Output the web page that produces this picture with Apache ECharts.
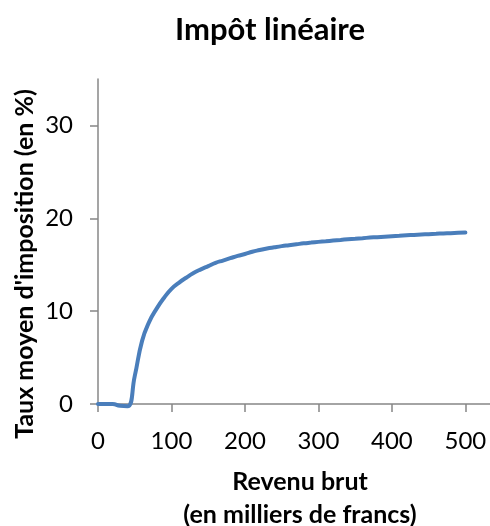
<!DOCTYPE html>
<html><head><meta charset="utf-8">
<script src="https://cdn.jsdelivr.net/npm/echarts@6/dist/echarts.min.js"></script>
<style>html,body{margin:0;padding:0;background:#fff}#c{width:490px;height:526px}</style>
</head><body><div id="c"></div>
<script>
const revenu = [0,10,20,30,40,50,60,70,80,90,100,110,120,130,140,150,160,170,180,190,200,
  210,220,230,240,250,260,270,280,290,300,310,320,330,340,350,360,370,380,390,400,
  410,420,430,440,450,460,470,480,490,500];
const taux = [0,0,0,-0.2,-0.25,3.0,6.8,8.9,10.3,11.45,12.4,13.05,13.6,14.1,14.5,14.85,15.2,15.45,15.7,15.95,16.15,
  16.4,16.58,16.75,16.88,17.0,17.1,17.2,17.3,17.38,17.46,17.53,17.6,17.67,17.74,17.8,17.86,17.92,17.97,18.02,18.07,
  18.12,18.17,18.21,18.25,18.29,18.33,18.37,18.4,18.43,18.46];
const xTicks = [0,100,200,300,400,500];
const yTicks = [0,10,20,30];
const titleText = 'Impôt linéaire';
const yTitle = "Taux moyen d'imposition (en %)";
const xTitle1 = 'Revenu brut';
const xTitle2 = '(en milliers de francs)';

const font = 'Lato, Carlito, Calibri, sans-serif';
const axisGray = '#878787';
const chart = echarts.init(document.getElementById('c'), null, {renderer:'canvas'});
chart.setOption({
  animation:false,
  title:{text:titleText,left:265,top:9,textAlign:'center',
    textStyle:{fontFamily:font,fontWeight:'bold',fontSize:31,color:'#000'}},
  grid:{left:98,right:0,top:79,bottom:122,containLabel:false},
  xAxis:{type:'value',min:0,max:533.5,interval:100,
    axisLine:{show:true,lineStyle:{color:axisGray,width:1.5}},
    axisTick:{show:true,length:8,customValues:xTicks,lineStyle:{color:axisGray,width:1.5}},
    axisLabel:{customValues:xTicks,margin:25,fontFamily:font,fontSize:24,color:'#000'},
    splitLine:{show:false}},
  yAxis:{type:'value',min:0,max:35,interval:10,
    axisLine:{show:true,lineStyle:{color:axisGray,width:1.5}},
    axisTick:{show:true,length:8,customValues:yTicks,lineStyle:{color:axisGray,width:1.5}},
    axisLabel:{customValues:yTicks,margin:25,fontFamily:font,fontSize:24,color:'#000'},
    splitLine:{show:false}},
  graphic:[
    {type:'text',x:25,y:264,rotation:Math.PI/2,style:{text:yTitle,font:'bold 25px '+font,fill:'#000',textAlign:'center',textVerticalAlign:'middle'}},
    {type:'text',x:300,y:482,style:{text:xTitle1,font:'bold 25px '+font,fill:'#000',textAlign:'center',textVerticalAlign:'middle'}},
    {type:'text',x:300,y:515,style:{text:xTitle2,font:'bold 25px '+font,fill:'#000',textAlign:'center',textVerticalAlign:'middle'}}
  ],
  series:[{type:'line',data:revenu.map((r,i)=>[r,taux[i]]),smooth:0.5,showSymbol:false,clip:false,
    lineStyle:{color:'#4A7EBB',width:4,cap:'round'}}]
});
</script></body></html>
